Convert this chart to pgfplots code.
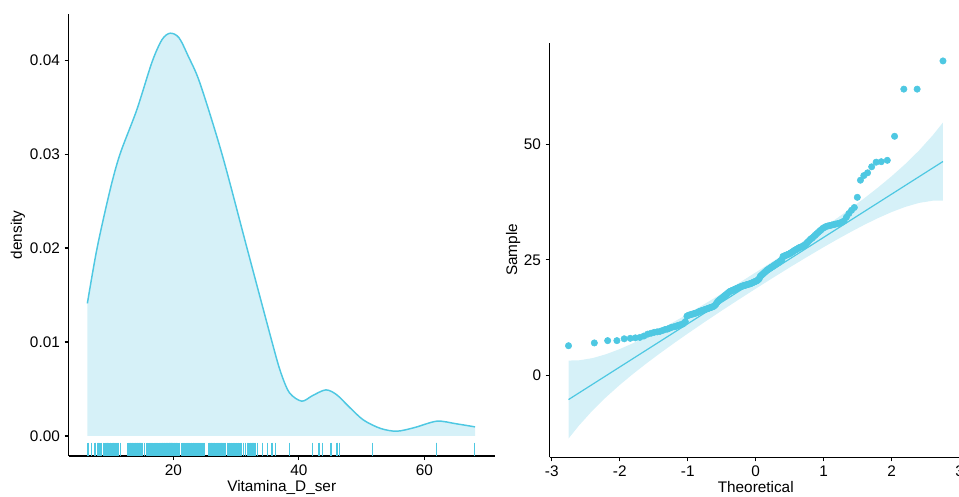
\documentclass[border=0pt]{standalone}
\usepackage{fontspec}
\setmainfont{Liberation Sans}
\usepackage{pgfplots}
\usepackage{pgfplotstable}
\pgfplotsset{compat=1.18}

\definecolor{vdline}{RGB}{78,200,226}
\definecolor{vdfill}{RGB}{214,241,248}

% sorted Vitamina_D_ser values with their theoretical normal quantiles
\pgfplotstableread{
theo val
-2.754 6.4
-2.374 7.0
-2.178 7.5
-2.042 7.5
-1.935 7.9
-1.846 8.0
-1.771 8.1
-1.705 8.2
-1.645 8.5
-1.590 8.9
-1.540 9.1
-1.494 9.3
-1.450 9.4
-1.409 9.5
-1.370 9.7
-1.334 9.9
-1.299 10.0
-1.265 10.2
-1.233 10.4
-1.202 10.5
-1.172 10.6
-1.143 10.8
-1.115 10.9
-1.088 11.0
-1.062 11.2
-1.036 11.6
-1.012 12.8
-0.987 13.0
-0.964 13.1
-0.940 13.2
-0.918 13.3
-0.895 13.4
-0.874 13.5
-0.852 13.6
-0.831 13.8
-0.811 13.9
-0.790 14.0
-0.770 14.1
-0.751 14.2
-0.731 14.3
-0.712 14.4
-0.693 14.5
-0.675 14.6
-0.656 14.7
-0.638 14.8
-0.620 14.9
-0.602 15.1
-0.585 15.4
-0.567 15.8
-0.550 16.1
-0.533 16.3
-0.516 16.5
-0.499 16.7
-0.482 16.9
-0.466 17.1
-0.450 17.3
-0.433 17.5
-0.417 17.7
-0.401 17.9
-0.385 18.1
-0.369 18.2
-0.353 18.3
-0.338 18.4
-0.322 18.5
-0.307 18.6
-0.292 18.7
-0.276 18.8
-0.261 18.9
-0.246 19.0
-0.231 19.1
-0.215 19.2
-0.200 19.3
-0.185 19.35
-0.170 19.4
-0.155 19.5
-0.141 19.55
-0.126 19.6
-0.111 19.7
-0.096 19.75
-0.081 19.8
-0.066 19.9
-0.052 20.0
-0.037 20.1
-0.022 20.2
-0.007 20.3
0.007 20.4
0.022 20.5
0.037 20.7
0.052 20.9
0.066 21.4
0.081 21.6
0.096 21.8
0.111 22.0
0.126 22.2
0.141 22.4
0.155 22.6
0.170 22.8
0.185 22.9
0.200 23.1
0.215 23.2
0.231 23.4
0.246 23.5
0.261 23.7
0.276 23.8
0.292 24.0
0.307 24.1
0.322 24.3
0.338 24.4
0.353 24.6
0.369 24.8
0.385 25.0
0.401 25.7
0.417 25.8
0.433 25.9
0.450 26.0
0.466 26.1
0.482 26.2
0.499 26.3
0.516 26.5
0.533 26.6
0.550 26.8
0.567 27.0
0.585 27.1
0.602 27.3
0.620 27.4
0.638 27.6
0.656 27.7
0.675 27.8
0.693 27.9
0.712 28.1
0.731 28.3
0.751 28.6
0.770 28.9
0.790 29.2
0.811 29.5
0.831 29.7
0.852 30.0
0.874 30.3
0.895 30.6
0.918 30.9
0.940 31.2
0.964 31.5
0.987 31.8
1.012 32.0
1.036 32.2
1.062 32.3
1.088 32.4
1.115 32.5
1.143 32.6
1.172 32.7
1.202 32.8
1.233 32.9
1.265 33.1
1.299 33.4
1.334 34.2
1.370 35.0
1.409 35.7
1.450 36.3
1.494 38.5
1.540 42.2
1.590 43.2
1.645 43.8
1.705 45.1
1.771 46.1
1.846 46.2
1.935 46.5
2.042 51.7
2.178 61.9
2.374 61.9
2.754 68.0
}\vitd

% density curve of the same values
\pgfplotstableread{
x d
6.3 0.01411
7.85 0.0200
9.91 0.02616
11.5 0.0300
14.17 0.03471
16.6 0.0398
18.2 0.0422
19.5 0.04288
20.9 0.0424
22.4 0.0404
24.25 0.03755
27.76 0.0300
31.74 0.0200
35.73 0.0100
37.1 0.0068
38.5 0.0046
40.46 0.0037
42.2 0.0043
44.3 0.0049
46.0 0.0044
48.0 0.0031
50.28 0.0017
53.0 0.0008
55.6 0.0005
58.5 0.0009
62.0 0.00157
65.0 0.0013
68.08 0.00096
}\dens

\pgfplotsset{
  panel/.style={
    scale only axis,
    anchor=south west,
    axis lines*=left,
    tick align=outside,
    major tick length=3pt,
    axis line style={line width=0.9pt, black},
    every tick/.style={line width=0.9pt, black},
    tick label style={font=\fontsize{11.5}{13}\selectfont, black},
    label style={font=\fontsize{11.5}{13}\selectfont, black},
    /pgf/number format/assume math mode=true,
  },
}

\begin{document}
\begin{tikzpicture}
\useasboundingbox (0pt,0pt) rectangle (719.25pt,372pt);

% density panel
\begin{axis}[panel,
  at={(51.4pt,30pt)}, width=319.8pt, height=331.6pt,
  xmin=3.3, xmax=71.25, ymin=-0.00214, ymax=0.04494,
  xtick={20,40,60}, ytick={0,0.01,0.02,0.03,0.04},
  scaled y ticks=false,
  yticklabel style={/pgf/number format/.cd, fixed, fixed zerofill, precision=2},
  xlabel={Vitamina\_D\_ser}, ylabel={density},
  xlabel style={at={(axis description cs:0.5,0)}, anchor=center, yshift=-23.5pt},
  ylabel style={at={(axis description cs:0,0.5)}, anchor=center, yshift=37.9pt},
]
\addplot[fill=vdfill, draw=none, smooth] table[x=x, y=d] {\dens} \closedcycle;
\addplot[vdline, line width=1.1pt, smooth] table[x=x, y=d] {\dens};
% rug
\addplot[only marks, mark=|, mark size=4.97pt, color=vdline,
  mark options={draw=vdline, line width=1.1pt}] table[x=val, y expr=-0.00143] {\vitd};
\end{axis}

% Q-Q panel
\begin{axis}[panel,
  at={(412.3pt,28.9pt)}, width=309pt, height=311.2pt,
  xmin=-3.03, xmax=3.03, ymin=-17.77, ymax=71.98,
  xtick={-3,-2,-1,0,1,2,3}, ytick={0,25,50},
  xlabel={Theoretical}, ylabel={Sample},
  xlabel style={at={(axis description cs:0.5,0)}, anchor=center, yshift=-22.5pt},
  ylabel style={at={(axis description cs:0,0.5)}, anchor=center, yshift=27.5pt},
]
\addplot[fill=vdfill, draw=none] coordinates {
  (-2.754,3.19) (-2.6,3.24) (-2.4,3.72) (-2.2,4.57) (-2.0,5.68) (-1.8,6.98)
  (-1.6,8.42) (-1.4,9.97) (-1.2,11.59) (-1.0,13.27) (-0.75,15.45) (-0.5,17.67)
  (-0.25,19.94) (0,22.26) (0.25,24.62) (0.5,27.02) (0.75,29.47) (1.0,31.97)
  (1.2,34.03) (1.4,36.15) (1.6,38.34) (1.8,40.64) (2.0,43.08) (2.2,45.71)
  (2.4,48.60) (2.6,51.86) (2.754,54.69)
  (2.754,37.81) (2.6,37.76) (2.4,37.28) (2.2,36.43) (2.0,35.32) (1.8,34.02)
  (1.6,32.58) (1.4,31.03) (1.2,29.41) (1.0,27.73) (0.75,25.56) (0.5,23.34)
  (0.25,21.06) (0,18.74) (-0.25,16.38) (-0.5,13.99) (-0.75,11.54) (-1.0,9.03)
  (-1.2,6.97) (-1.4,4.85) (-1.6,2.66) (-1.8,0.36) (-2.0,-2.08) (-2.2,-4.71)
  (-2.4,-7.60) (-2.6,-10.86) (-2.754,-13.69)
};
\addplot[vdline, line width=0.9pt] coordinates {(-2.754,-5.25) (2.754,46.25)};
\addplot[only marks, mark=*, mark size=2.4pt, color=vdline,
  mark options={draw=vdline, fill=vdline}] table[x=theo, y=val] {\vitd};
\end{axis}
\end{tikzpicture}
\end{document}
